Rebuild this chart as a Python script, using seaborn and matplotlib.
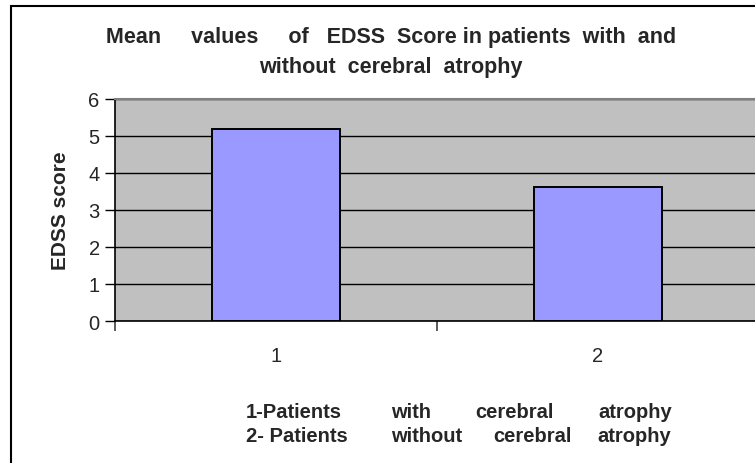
import matplotlib
matplotlib.use("Agg")
import matplotlib.pyplot as plt
import seaborn as sns
import pandas as pd
from matplotlib.patches import Rectangle
from matplotlib.ticker import FixedLocator

categories = ["1", "2"]
values = [5.2, 3.62]
yticks = [0, 1, 2, 3, 4, 5, 6]
title_line1 = "Mean     values     of   EDSS  Score in patients  with  and"
title_line2 = "without  cerebral  atrophy"
footer1 = ["1-Patients", "with", "cerebral", "atrophy"]
footer2 = ["2- Patients", "without", "cerebral", "atrophy"]
ylabel = "EDSS score"

sns.set_theme(style="white")
plt.rcParams['font.family'] = ['Liberation Sans', 'DejaVu Sans']

W, H = 755, 464
fig = plt.figure(figsize=(W / 100, H / 100), dpi=100)
fig.patch.set_facecolor("white")

def fx(px):
    return px / W

def fy(py):
    return 1 - py / H

# outer chart border
fig.add_artist(Rectangle((fx(11), fy(470)), fx(760) - fx(11), fy(7) - fy(470),
                         transform=fig.transFigure, fill=False,
                         edgecolor="black", linewidth=1.5, clip_on=False))

left, right, top, bottom = 115, 759, 100, 322
ax = fig.add_axes([fx(left), fy(bottom), fx(right) - fx(left), fy(top) - fy(bottom)])
ax.set_facecolor("#C0C0C0")

df = pd.DataFrame({"cat": categories, "val": values})
sns.barplot(data=df, x="cat", y="val", ax=ax, width=0.397, color="#9999FF",
            edgecolor="black", linewidth=1.4, saturation=1, zorder=3)

ax.set_ylim(0, 6)
ax.set_xlim(-0.5, 1.5)
ax.set_yticks(yticks)
ax.set_yticklabels([str(t) for t in yticks], fontsize=14.5)
ax.yaxis.grid(True, color="black", linewidth=1.0, zorder=1)
ax.set_axisbelow(True)
ax.tick_params(axis="y", left=True, length=7, width=1, color="black", pad=4)

ax.set_xticks(range(len(categories)))
ax.set_xticklabels(categories, fontsize=14.5)
ax.tick_params(axis="x", which="major", length=0, pad=18)
ax.xaxis.set_minor_locator(FixedLocator([-0.5, 0.5, 1.5]))
ax.tick_params(axis="x", which="minor", bottom=True, length=7, width=1.2, color="#404040")

for s in ["left", "bottom"]:
    ax.spines[s].set_color("black")
    ax.spines[s].set_linewidth(1.2)
ax.spines["top"].set_color("#808080")
ax.spines["top"].set_linewidth(1.5)
ax.spines["right"].set_visible(False)

ax.set_xlabel("")
ax.set_ylabel("")
fig.text(fx(60), fy(211), ylabel, rotation=90, ha="center", va="center",
         fontsize=15, fontweight="bold")

fig.text(fx(391), fy(37), title_line1, ha="center", va="center",
         fontsize=15.5, fontweight="bold")
fig.text(fx(391), fy(67), title_line2, ha="center", va="center",
         fontsize=15.5, fontweight="bold")

xs1 = [246, 391, 475, 598]
xs2 = [246, 391, 493, 597]
for w, x in zip(footer1, xs1):
    fig.text(fx(x), fy(412), w, ha="left", va="center", fontsize=14.5, fontweight="bold")
for w, x in zip(footer2, xs2):
    fig.text(fx(x), fy(437), w, ha="left", va="center", fontsize=14.5, fontweight="bold")

fig.savefig("out.png", dpi=100, facecolor="white")
